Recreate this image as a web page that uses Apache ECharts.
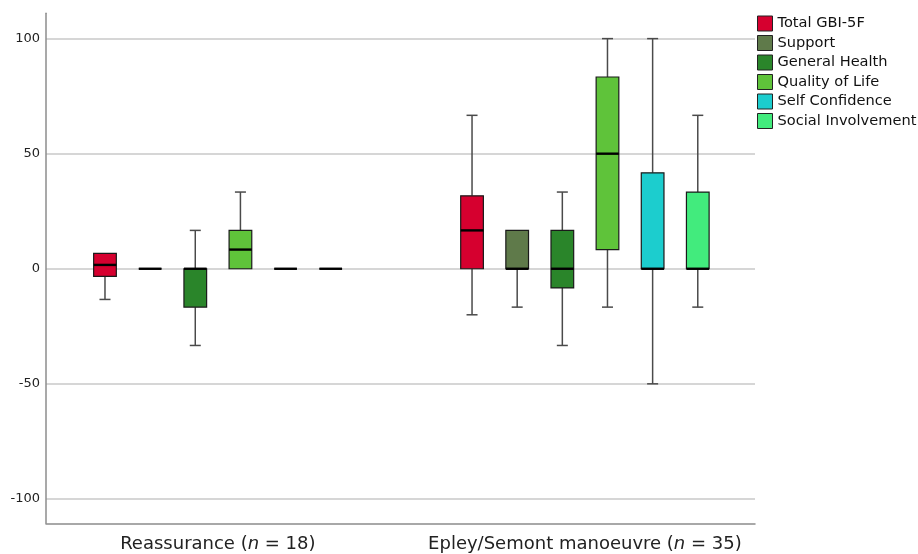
<!DOCTYPE html>
<html><head><meta charset="utf-8">
<script src="https://cdn.jsdelivr.net/npm/echarts@6/dist/echarts.min.js"></script>
<style>html,body{margin:0;padding:0;background:#fff}#c{width:918px;height:554px}</style>
</head><body><div id="c"></div>
<script>
const groups = ['Reassurance', 'Epley/Semont manoeuvre'];
const groupN = [18, 35];
const measures = ['Total GBI-5F', 'Support', 'General Health', 'Quality of Life', 'Self Confidence', 'Social Involvement'];
const colors = ['#d6002f', '#5f7a4a', '#2a852a', '#5fc33a', '#1ccdce', '#42eb7d'];
// [min, Q1, median, Q3, max] for [Reassurance, Epley/Semont]
const totalGBI = [[-13.33, -3.33, 1.67, 6.67, 6.67], [-20, 0, 16.67, 31.67, 66.67]];
const support = [[0, 0, 0, 0, 0], [-16.67, 0, 0, 16.67, 16.67]];
const generalHealth = [[-33.33, -16.67, 0, 0, 16.67], [-33.33, -8.33, 0, 16.67, 33.33]];
const qualityOfLife = [[0, 0, 8.33, 16.67, 33.33], [-16.67, 8.33, 50, 83.33, 100]];
const selfConfidence = [[0, 0, 0, 0, 0], [-50, 0, 0, 41.67, 100]];
const socialInvolvement = [[0, 0, 0, 0, 0], [-16.67, 0, 0, 33.33, 66.67]];
const yTicks = [-100, -50, 0, 50, 100];
const groupPos = [0, 1];

const statsList = [totalGBI, support, generalHealth, qualityOfLife, selfConfidence, socialInvolvement];
const SLOT = 0.1230, BOXW = 0.0618, CAPW = 0.030;
const FONT = 'DejaVu Sans';

function seg(x1, y1, x2, y2, style) {
  return { type: 'line', shape: { x1: x1, y1: y1, x2: x2, y2: y2 }, style: style };
}

const series = measures.map(function (name, s) {
  return {
    type: 'custom',
    name: name,
    itemStyle: { color: colors[s], borderColor: '#222', borderWidth: 1 },
    encode: { x: 0, y: [1, 2, 3, 4, 5] },
    data: statsList[s].map(function (st, g) { return [groupPos[g]].concat(st); }),
    renderItem: function (params, api) {
      const g = api.value(0);
      const mn = api.value(1), q1 = api.value(2), md = api.value(3), q3 = api.value(4), mx = api.value(5);
      const unit = api.size([1, 0])[0];
      const cx = api.coord([g, 0])[0] + (params.seriesIndex - 2.5) * SLOT * unit;
      const Y = function (v) { return api.coord([g, v])[1]; };
      const hw = BOXW * unit / 2, cw = CAPW * unit / 2;
      const wStyle = { stroke: '#4a4a4a', lineWidth: 1.5 };
      const children = [];
      if (mx > q3) {
        children.push(seg(cx, Y(q3), cx, Y(mx), wStyle));
        children.push(seg(cx - cw, Y(mx), cx + cw, Y(mx), wStyle));
      }
      if (mn < q1) {
        children.push(seg(cx, Y(q1), cx, Y(mn), wStyle));
        children.push(seg(cx - cw, Y(mn), cx + cw, Y(mn), wStyle));
      }
      children.push({
        type: 'rect',
        shape: { x: cx - hw, y: Y(q3), width: 2 * hw, height: Y(q1) - Y(q3) },
        style: { fill: api.visual('color'), stroke: '#1a1a1a', lineWidth: 1.2 }
      });
      children.push(seg(cx - hw, Y(md), cx + hw, Y(md), { stroke: '#000', lineWidth: 2.4 }));
      return { type: 'group', children: children };
    }
  };
});

const chart = echarts.init(document.getElementById('c'), null, { renderer: 'canvas' });
chart.setOption({
  animation: false,
  backgroundColor: '#fff',
  color: colors,
  grid: { left: 46, right: 163, top: 13.3, bottom: 30.7, containLabel: false },
  legend: {
    orient: 'vertical', left: 752, top: 10.5,
    icon: 'rect', itemWidth: 15, itemHeight: 15, itemGap: 3.5,
    itemStyle: { borderColor: '#222', borderWidth: 1 },
    textStyle: { fontFamily: FONT, fontSize: 14.6, color: '#111' },
    data: measures
  },
  xAxis: {
    type: 'value', min: -0.4682, max: 1.4634,
    splitLine: { show: false },
    axisTick: { show: false },
    axisLine: { onZero: false, lineStyle: { color: '#8c8c8c', width: 1.5 } },
    axisLabel: {
      customValues: groupPos,
      margin: 12,
      formatter: function (v) {
        const i = groupPos.indexOf(Math.round(v * 1000) / 1000);
        if (i < 0) return '';
        return '{a|' + groups[i] + ' (}{i|n}{a| = ' + groupN[i] + ')}';
      },
      rich: {
        a: { fontFamily: FONT, fontSize: 18, color: '#222' },
        i: { fontFamily: FONT, fontSize: 18, color: '#222', fontStyle: 'italic' }
      }
    }
  },
  yAxis: {
    type: 'value', min: -110.6, max: 111.0,
    axisLine: { show: true, onZero: false, lineStyle: { color: '#8c8c8c', width: 1.5 } },
    axisTick: { show: false, customValues: yTicks },
    splitLine: { show: true, lineStyle: { color: '#c8c8c8', width: 1.5 } },
    axisLabel: {
      customValues: yTicks,
      margin: 6, fontFamily: FONT, fontSize: 13, color: '#222'
    }
  },
  series: series
});
</script>
</body></html>
